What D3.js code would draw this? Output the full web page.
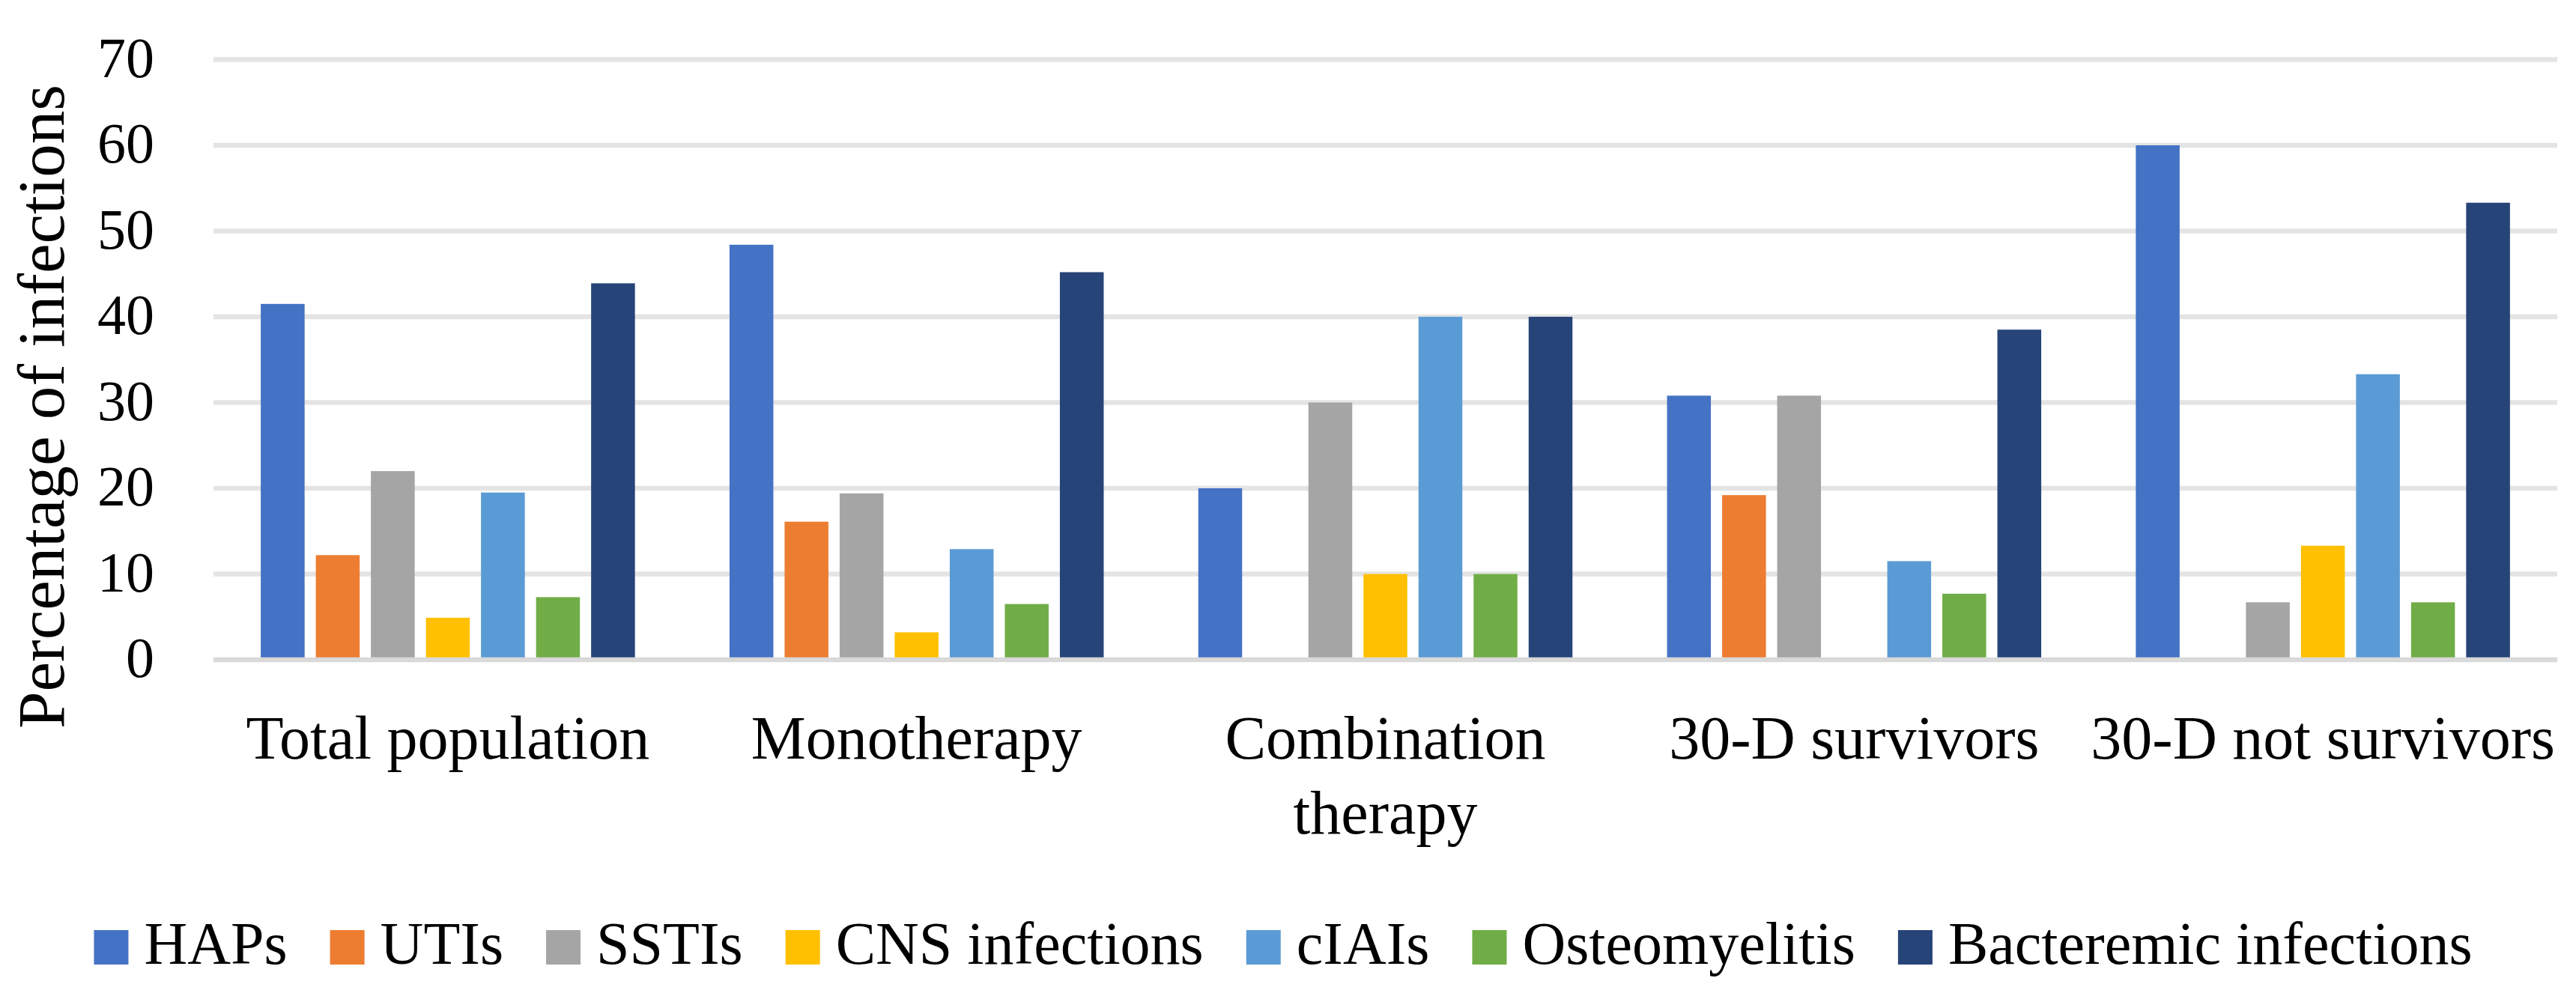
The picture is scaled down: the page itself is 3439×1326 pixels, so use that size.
<!DOCTYPE html>
<html>
<head>
<meta charset="utf-8">
<script src="https://cdn.jsdelivr.net/npm/d3@7"></script>
<style>
  body { margin: 0; background: #fff; }
  svg { display: block; font-family: "Liberation Serif", "Times New Roman", serif; }
</style>
</head>
<body>
<div id="chart"></div>
<script>
// groups on the x axis
const categories = ["Total population", "Monotherapy", "Combination therapy", "30-D survivors", "30-D not survivors"];
// infection types (legend order)
const seriesNames = ["HAPs", "UTIs", "SSTIs", "CNS infections", "cIAIs", "Osteomyelitis", "Bacteremic infections"];
const seriesColors = ["#4472C4", "#ED7D31", "#A5A5A5", "#FFC000", "#5B9BD5", "#70AD47", "#264478"];

// percentage of infections per group
const haps  = [41.5, 48.4, 20.0, 30.8, 60.0];
const utis  = [12.2, 16.1, 0, 19.2, 0];
const sstis = [22.0, 19.4, 30.0, 30.8, 6.7];
const cns   = [4.9, 3.2, 10.0, 0, 13.3];
const ciais = [19.5, 12.9, 40.0, 11.5, 33.3];
const osteo = [7.3, 6.5, 10.0, 7.7, 6.7];
const bact  = [43.9, 45.2, 40.0, 38.5, 53.3];

const yTicks = [0, 10, 20, 30, 40, 50, 60, 70];

const seriesValues = [haps, utis, sstis, cns, ciais, osteo, bact];

const width = 3439, height = 1326;

const svg = d3.select("#chart").append("svg")
    .attr("width", width)
    .attr("height", height);

svg.append("rect").attr("width", width).attr("height", height).attr("fill", "#fff");

const x0 = d3.scaleBand().domain(categories).range([285, 3414]);
const x1 = d3.scaleBand().domain(seriesNames).range([0, x0.bandwidth()])
    .paddingInner(0.204).paddingOuter(0.859);
const y = d3.scaleLinear().domain([0, 70]).range([881, 79.5]);

// gridlines
svg.append("g").selectAll("line")
  .data(yTicks.filter(d => d > 0))
  .enter().append("line")
    .attr("x1", x0.range()[0])
    .attr("x2", x0.range()[1])
    .attr("y1", d => y(d))
    .attr("y2", d => y(d))
    .attr("stroke", "#e4e4e4")
    .attr("stroke-width", 6.5);

// tick labels
svg.append("g").selectAll("text")
  .data(yTicks)
  .enter().append("text")
    .attr("x", 206)
    .attr("y", d => y(d) + 23)
    .attr("text-anchor", "end")
    .style("font-size", "76px")
    .attr("fill", "#000")
    .text(d => d);

// bars
const rows = categories.map((c, i) => ({
  cat: c,
  vals: seriesNames.map((s, j) => ({ series: s, color: seriesColors[j], value: seriesValues[j][i] }))
}));

const group = svg.append("g").selectAll("g")
  .data(rows)
  .enter().append("g")
    .attr("transform", d => `translate(${x0(d.cat)},0)`);

group.selectAll("rect")
  .data(d => d.vals.filter(v => v.value > 0))
  .enter().append("rect")
    .attr("x", d => x1(d.series))
    .attr("width", x1.bandwidth())
    .attr("y", d => y(d.value))
    .attr("height", d => y(0) - y(d.value))
    .attr("fill", d => d.color);

// baseline
svg.append("line")
    .attr("x1", x0.range()[0])
    .attr("x2", x0.range()[1])
    .attr("y1", y(0))
    .attr("y2", y(0))
    .attr("stroke", "#d9d9d9")
    .attr("stroke-width", 6.5);

// category labels, wrapped when wider than the band
svg.append("g").selectAll("text")
  .data(categories)
  .enter().append("text")
    .attr("x", d => x0(d) + x0.bandwidth() / 2)
    .attr("y", 1013)
    .attr("text-anchor", "middle")
    .style("font-size", "82px")
    .attr("fill", "#000")
    .each(function (d) {
      const t = d3.select(this);
      const cx = x0(d) + x0.bandwidth() / 2;
      let line = [];
      let tspan = t.append("tspan").attr("x", cx).attr("dy", 0);
      d.split(" ").forEach(w => {
        line.push(w);
        tspan.text(line.join(" "));
        if (tspan.node().getComputedTextLength() > x0.bandwidth() + 10 && line.length > 1) {
          line.pop();
          tspan.text(line.join(" "));
          line = [w];
          tspan = t.append("tspan").attr("x", cx).attr("dy", 100).text(w);
        }
      });
    });

// y axis title
svg.append("text")
    .attr("transform", "translate(85,543) rotate(-90)")
    .attr("text-anchor", "middle")
    .style("font-size", "89px")
    .attr("fill", "#000")
    .text("Percentage of infections");

// legend
const legend = svg.append("g");
const sq = 46, gapIn = 21, gapOut = 57;
let lx = 0;
seriesNames.forEach((s, i) => {
  const g = legend.append("g").attr("transform", `translate(${lx},0)`);
  g.append("rect").attr("x", 0).attr("y", 1242).attr("width", sq).attr("height", sq).attr("fill", seriesColors[i]);
  const txt = g.append("text")
      .attr("x", sq + gapIn)
      .attr("y", 1287)
      .style("font-size", "80px")
      .attr("fill", "#000")
      .text(s);
  lx += sq + gapIn + txt.node().getComputedTextLength() + gapOut;
});
const totalW = lx - gapOut;
legend.attr("transform", `translate(${1713 - totalW / 2},0)`);
</script>
</body>
</html>
